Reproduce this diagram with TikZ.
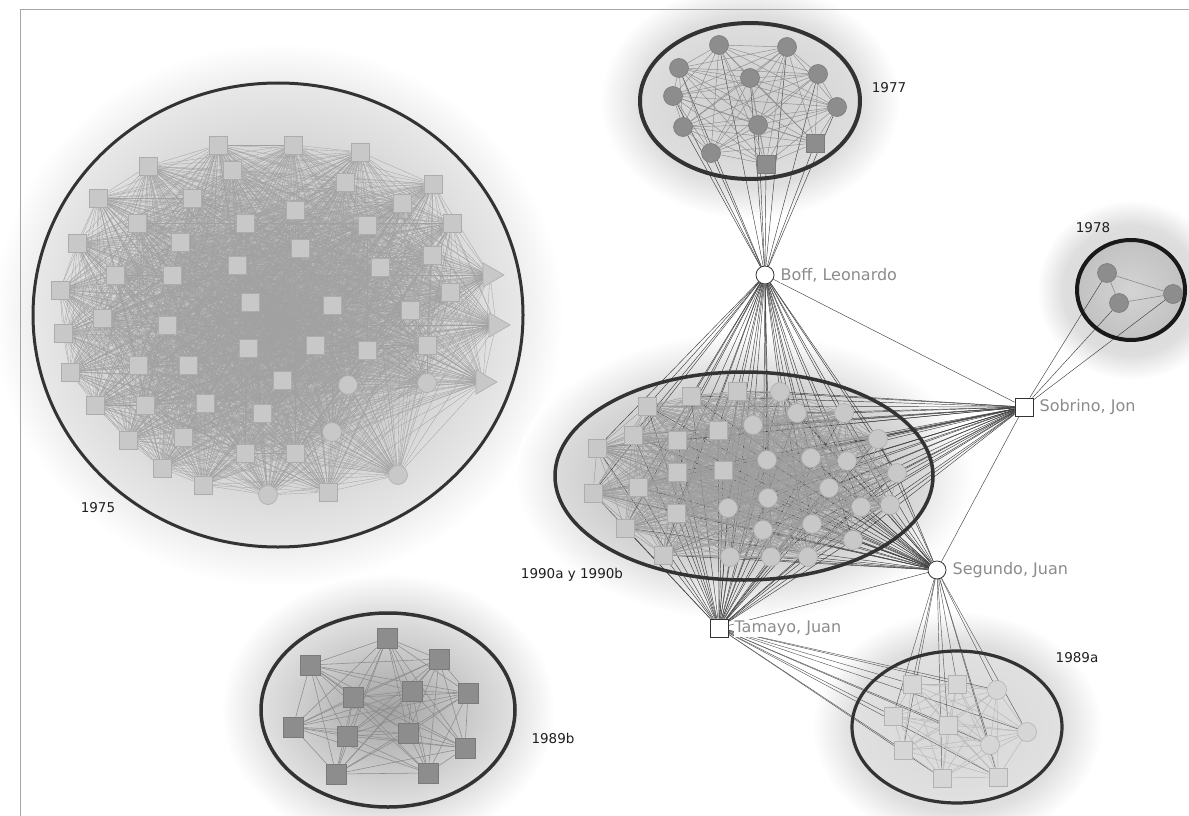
\documentclass[tikz,border=0pt]{standalone}
\usepackage{fontspec}
\setmainfont{DejaVu Sans}
\usetikzlibrary{shapes.geometric,positioning}

\pgfdeclarelayer{halo}
\pgfdeclarelayer{edges}
\pgfdeclarelayer{rings}
\pgfsetlayers{halo,edges,rings,main}

\pgfdeclareradialshading{halo}{\pgfpoint{0bp}{0bp}}{color(0bp)=(black!15); color(18bp)=(black!13); color(25bp)=(white); color(50bp)=(white)}

\definecolor{liteF}{HTML}{C8C8C8}
\definecolor{liteD}{HTML}{ACACAC}
\definecolor{darkF}{HTML}{8D8D8D}
\definecolor{darkD}{HTML}{7A7A7A}
\definecolor{paleF}{HTML}{D6D6D6}
\definecolor{paleD}{HTML}{B2B2B2}

\begin{document}
\begin{tikzpicture}[x=1pt,y=-1pt,
    every node/.style={inner sep=0pt},
    sq/.style={rectangle,minimum size=18pt,line width=0.6pt},
    ci/.style={circle,minimum size=19pt,line width=0.6pt},
    tri/.style={regular polygon,regular polygon sides=3,shape border rotate=-90,minimum size=28pt,line width=0.6pt},
    litenode/.style={fill=liteF,draw=liteD},
    darknode/.style={fill=darkF,draw=darkD},
    palenode/.style={fill=paleF,draw=paleD},
    hubc/.style={circle,minimum size=18pt,fill=white,draw=black!80,line width=0.8pt},
    hubs/.style={rectangle,minimum size=18pt,fill=white,draw=black!80,line width=0.8pt},
    tie/.style={draw=black!38,line width=0.5pt},
    spoke/.style={draw=black!75,line width=0.45pt},
    ring/.style={draw=black!80,line width=3.5pt},
    hublab/.style={font=\fontsize{16}{19}\selectfont,text=black!45,fill=white,inner sep=1pt},
    yearlab/.style={font=\fontsize{13.5}{16}\selectfont,text=black!88}]
    \useasboundingbox (0,0) rectangle (1189,816);
    \draw [black!35,line width=0.8pt] (20,816) -- (20,9) -- (1189,9);

    % halos and ring fills
    \begin{pgfonlayer}{halo}
    \shade [shading=halo] (278,315) ellipse [x radius=285, y radius=272];
    \shade [shading=halo] (750,101) ellipse [x radius=150, y radius=118];
    \shade [shading=halo] (1131,290) ellipse [x radius=94, y radius=90];
    \shade [shading=halo] (744,476) ellipse [x radius=229, y radius=144];
    \shade [shading=halo] (957,727) ellipse [x radius=145, y radius=116];
    \shade [shading=halo] (388,710) ellipse [x radius=167, y radius=137];
    \shade [inner color=black!34,outer color=black!9] (278,315) ellipse [x radius=245, y radius=232];
    \shade [inner color=black!20,outer color=black!13] (750,101) ellipse [x radius=110, y radius=78];
    \shade [inner color=black!17,outer color=black!24] (1131,290) ellipse [x radius=54, y radius=50];
    \shade [inner color=black!36,outer color=black!14] (744,476) ellipse [x radius=189, y radius=104];
    \shade [inner color=black!16,outer color=black!12] (957,727) ellipse [x radius=105, y radius=76];
    \shade [inner color=black!36,outer color=black!12] (388,710) ellipse [x radius=127, y radius=97];
    \end{pgfonlayer}

    \begin{pgfonlayer}{rings}
    \draw [ring,line width=3pt] (278,315) ellipse [x radius=245, y radius=232];
    \draw [ring,line width=4pt] (750,101) ellipse [x radius=110, y radius=78];
    \draw [ring,line width=4pt,draw=black!90] (1131,290) ellipse [x radius=54, y radius=50];
    \draw [ring] (744,476) ellipse [x radius=189, y radius=104];
    \draw [ring,line width=3.2pt] (957,727) ellipse [x radius=105, y radius=76];
    \draw [ring] (388,710) ellipse [x radius=127, y radius=97];
    \end{pgfonlayer}

    % 1975
    \foreach \x/\y [count=\i] in {218/145,293/145,360/152,148/166,232/170,345/182,433/184,98/198,192/198,402/203,
        295/210,137/223,245/223,367/225,452/223,180/242,300/248,77/243,432/255,237/265,
        380/267,115/275,172/275,60/290,450/292,250/302,332/305,410/310,102/318,167/325,
        63/333,427/345,248/348,315/345,367/350,70/372,138/365,188/365,282/380,95/405,
        145/405,205/403,262/413,128/440,183/437,245/453,295/453,162/468,203/485,328/492}
        \node [sq,litenode] (a\i) at (\x,\y) {};
    \foreach \x/\y [count=\i from 51] in {348/385,427/383,332/432,398/475,268/495}
        \node [ci,litenode] (a\i) at (\x,\y) {};
    \foreach \x/\y [count=\i from 56] in {490/275,496/325,483/382}
        \node [tri,litenode] (a\i) at (\x,\y) {};

    % 1977
    \foreach \x/\y [count=\i] in {719/45,787/47,679/68,750/78,818/74,673/96,837/107,683/127,758/125,711/153}
        \node [ci,darknode] (c\i) at (\x,\y) {};
    \node [sq,darknode] (c11) at (815,143) {};
    \node [sq,darknode] (c12) at (766,164) {};

    % 1978
    \foreach \x/\y [count=\i] in {1107/273,1119/303,1173/294}
        \node [ci,darknode] (r\i) at (\x,\y) {};

    % 1990a y 1990b
    \foreach \x/\y [count=\i] in {647/406,691/396,737/391,633/435,677/440,718/430,597/448,
        677/472,723/470,593/493,638/487,676/513,625/528,663/555}
        \node [sq,litenode] (e\i) at (\x,\y) {};
    \foreach \x/\y [count=\i from 15] in {780/392,797/413,753/425,844/413,878/439,767/460,811/458,
        847/461,897/473,829/488,768/498,728/508,861/507,890/505,763/530,812/524,853/540,
        730/557,771/557,808/557}
        \node [ci,litenode] (e\i) at (\x,\y) {};

    % 1989a
    \foreach \x/\y [count=\i] in {912/684,957/684,893/716,948/725,903/750,942/778,998/777}
        \node [sq,palenode] (f\i) at (\x,\y) {};
    \foreach \x/\y [count=\i from 8] in {997/690,1027/732,990/745}
        \node [ci,palenode] (f\i) at (\x,\y) {};

    % 1989b
    \foreach \x/\y [count=\i] in {387/638,310/665,439/659,353/697,412/691,468/693,
        293/727,347/736,408/733,465/748,336/774,428/773}
        \node [sq,darknode,minimum size=20pt] (h\i) at (\x,\y) {};

    % authors shared between groups
    \node [hubc] (b) at (765,275) {};
    \node [hubs] (s) at (1024,407) {};
    \node [hubc] (g) at (937,570) {};
    \node [hubs] (t) at (719,628) {};
    \node [hublab,right=5pt of b] (bl) {Boff, Leonardo};
    \node [hublab,right=5pt of s] (sl) {Sobrino, Jon};
    \node [hublab,right=5pt of g] (gl) {Segundo, Juan};
    \node [hublab,right=5pt of t] (tl) {Tamayo, Juan};

    \node [yearlab] (y75) at (98,508) {1975};
    \node [yearlab] (y77) at (889,88) {1977};
    \node [yearlab] (y78) at (1093,228) {1978};
    \node [yearlab] (y90) at (572,575) {1990a y 1990b};
    \node [yearlab] (y89a) at (1077,658) {1989a};
    \node [yearlab] (y89b) at (553,738) {1989b};

    \begin{pgfonlayer}{edges}
    % spokes from the shared authors
    \foreach \h in {b,s,g,t}
        \foreach \i in {1,...,34} \draw [spoke] (\h) -- (e\i);
    \foreach \i in {1,...,12} \draw [spoke] (b) -- (c\i);
    \foreach \i in {1,...,3} \draw [spoke] (s) -- (r\i);
    \foreach \h in {g,t}
        \foreach \i in {1,...,10} \draw [spoke,draw=black!65] (\h) -- (f\i);
    \draw [spoke] (b) -- (s);
    \draw [spoke] (s) -- (g);
    \draw [spoke] (g) -- (t);

    \foreach \i in {1,...,57}{
        \pgfmathtruncatemacro\k{\i+1}
        \foreach \j in {\k,...,58} \draw [tie,draw=black!37,line width=0.3pt] (a\i) -- (a\j);
    }
    \foreach \i in {1,...,11}{
        \pgfmathtruncatemacro\k{\i+1}
        \foreach \j in {\k,...,12} \draw [tie,draw=black!45,line width=0.45pt] (c\i) -- (c\j);
    }
    \draw [tie,draw=black!45,line width=0.6pt] (r1) -- (r2) -- (r3) -- (r1);
    \foreach \i in {1,...,33}{
        \pgfmathtruncatemacro\k{\i+1}
        \foreach \j in {\k,...,34} \draw [tie] (e\i) -- (e\j);
    }
    \foreach \i in {1,...,9}{
        \pgfmathtruncatemacro\k{\i+1}
        \foreach \j in {\k,...,10} \draw [tie,draw=black!28,line width=0.5pt] (f\i) -- (f\j);
    }
    \foreach \i in {1,...,11}{
        \pgfmathtruncatemacro\k{\i+1}
        \foreach \j in {\k,...,12} \draw [tie,draw=black!45,line width=0.55pt] (h\i) -- (h\j);
    }
    \end{pgfonlayer}
\end{tikzpicture}
\end{document}
